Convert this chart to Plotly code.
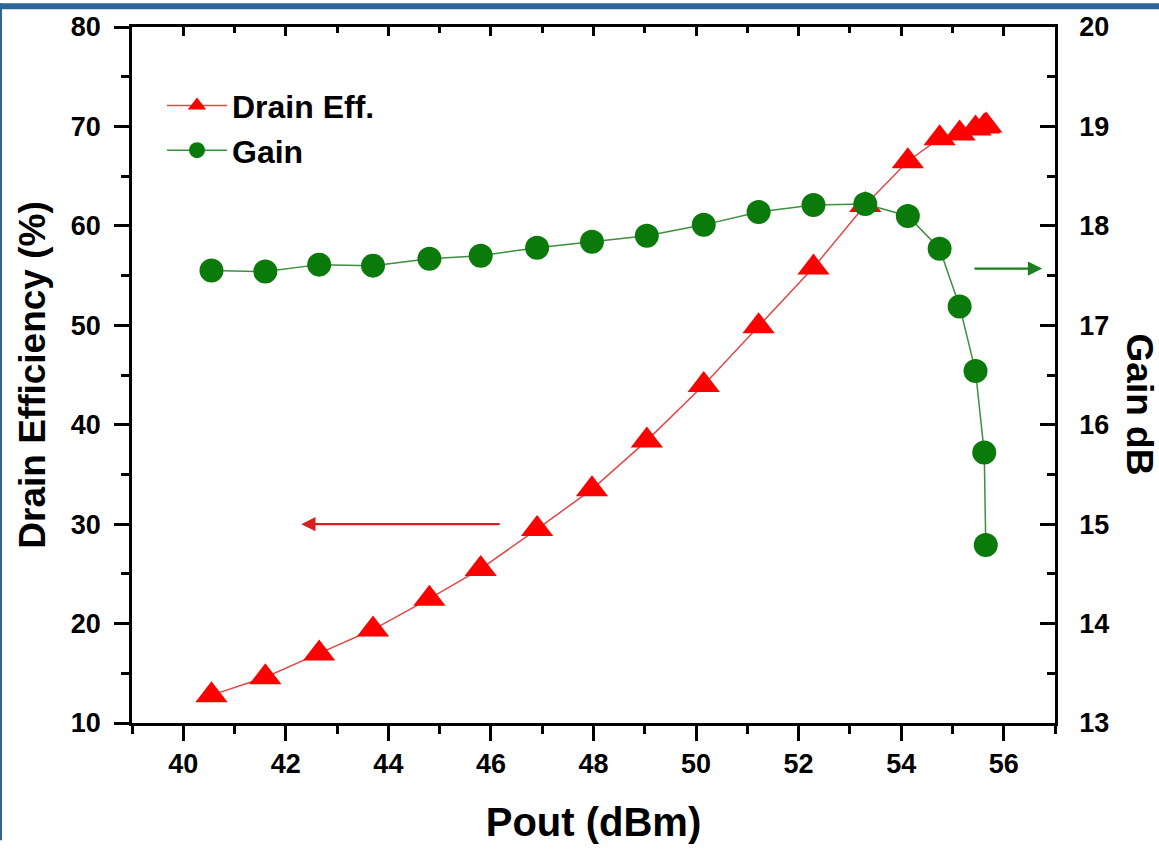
import plotly.graph_objects as go

# Data
pout_eff = [40.55, 41.6, 42.65, 43.7, 44.8, 45.8, 46.9, 47.97, 49.04, 50.15,
            51.22, 52.29, 53.3, 54.13, 54.75, 55.14, 55.45, 55.62, 55.66]
drain_eff = [12.8, 14.6, 17.0, 19.4, 22.5, 25.5, 29.5, 33.5, 38.4, 44.0,
             49.9, 55.8, 62.1, 66.5, 68.8, 69.3, 69.8, 70.0, 70.1]

pout_gain = [40.55, 41.6, 42.65, 43.7, 44.8, 45.8, 46.9, 47.97, 49.04, 50.15,
             51.22, 52.29, 53.3, 54.13, 54.75, 55.14, 55.45, 55.62, 55.65]
gain_db = [17.55, 17.54, 17.61, 17.60, 17.67, 17.70, 17.78, 17.84, 17.90, 18.01,
           18.14, 18.21, 18.22, 18.10, 17.77, 17.19, 16.54, 15.72, 14.79]

x_range = [39, 57]
eff_range = [10, 80]
gain_range = [13, 20]

W, H = 1159, 849
L, R, T, B = 132, 104, 24, 119
pw, ph = W - L - R, H - T - B

FONT = "Arial, Liberation Sans, sans-serif"

def px_x(p):
    return (p - L) / pw

def px_y(p):
    return (H - B - p) / ph

fig = go.Figure()
fig.add_trace(go.Scatter(
    x=pout_eff, y=drain_eff, name="Drain Eff.", mode="lines+markers",
    line=dict(color="#E04848", width=1.5),
    marker=dict(symbol="triangle-up", size=28, color="#FF0000",
                line=dict(width=0)),
    xaxis="x", yaxis="y"))
fig.add_trace(go.Scatter(
    x=pout_gain, y=gain_db, name="Gain", mode="lines+markers",
    line=dict(color="#3E8E3E", width=1.5),
    marker=dict(symbol="circle", size=24, color="#0A7A0A",
                line=dict(width=0)),
    xaxis="x2", yaxis="y2"))

tickfont = dict(family=FONT, size=27, color="black", weight="bold")

fig.update_layout(
    width=W, height=H,
    margin=dict(l=L, r=R, t=T, b=B),
    paper_bgcolor="white", plot_bgcolor="white",
    showlegend=True,
    legend=dict(x=px_x(162), y=px_y(76), xanchor="left", yanchor="top",
                bgcolor="rgba(0,0,0,0)",
                font=dict(family=FONT, size=32, color="black", weight="bold"),
                tracegroupgap=4, itemwidth=60),
    xaxis=dict(range=x_range, dtick=2, tick0=40, ticks="outside", ticklen=15,
               tickwidth=2.5, tickcolor="black", showline=True, linewidth=2.5,
               linecolor="black", showgrid=False, zeroline=False,
               minor=dict(dtick=1, ticks="outside", ticklen=8, tickwidth=2.5,
                          tickcolor="black", showgrid=False),
               tickfont=tickfont,
               title=dict(text="Pout (dBm)", standoff=30,
                          font=dict(family=FONT, size=40, color="black", weight="bold"))),
    xaxis2=dict(range=x_range, overlaying="x", side="top", anchor="y2",
                dtick=2, tick0=40, ticks="inside", ticklen=9, tickwidth=2.5,
                tickcolor="black", showline=True, linewidth=2.5, linecolor="black",
                showticklabels=False, showgrid=False, zeroline=False,
                minor=dict(dtick=1, ticks="inside", ticklen=6, tickwidth=2.5,
                           tickcolor="black", showgrid=False)),
    yaxis=dict(range=eff_range, dtick=10, tick0=10, ticks="outside", ticklen=15,
               tickwidth=2.5, tickcolor="black", showline=True, linewidth=2.5,
               linecolor="black", showgrid=False, zeroline=False,
               minor=dict(dtick=5, ticks="outside", ticklen=8, tickwidth=2.5,
                          tickcolor="black", showgrid=False),
               tickfont=tickfont, ticklabelstandoff=8,
               title=dict(text="Drain Efficiency (%)", standoff=14,
                          font=dict(family=FONT, size=37, color="black", weight="bold"))),
    yaxis2=dict(range=gain_range, overlaying="y", side="right", anchor="x2",
                dtick=1, tick0=13, ticks="inside", ticklen=15, tickwidth=2.5,
                tickcolor="black", showline=True, linewidth=2.5, linecolor="black",
                showgrid=False, zeroline=False,
                minor=dict(dtick=0.5, ticks="inside", ticklen=8, tickwidth=2.5,
                           tickcolor="black", showgrid=False),
                tickfont=tickfont, ticklabelstandoff=16),
)

# Gain axis title, reading top-to-bottom near the right edge
fig.add_annotation(text="Gain dB", textangle=90, xref="paper", yref="paper",
                   x=px_x(1139), y=px_y(407), xanchor="center", yanchor="middle",
                   showarrow=False,
                   font=dict(family=FONT, size=37, color="black", weight="bold"))

# Arrows indicating axes
fig.add_annotation(x=42.3, y=30, ax=46.2, ay=30, xref="x", yref="y",
                   axref="x", ayref="y", text="", showarrow=True,
                   arrowhead=2, arrowsize=1.3, arrowwidth=2.2, arrowcolor="#D42020")
fig.add_annotation(x=56.75, y=17.57, ax=55.4, ay=17.57, xref="x2", yref="y2",
                   axref="x2", ayref="y2", text="", showarrow=True,
                   arrowhead=2, arrowsize=1.3, arrowwidth=2.2, arrowcolor="#1E7E1E")

# Blue frame strips (top and left)
blue = "#2F6499"
fig.add_shape(type="rect", xref="paper", yref="paper",
              x0=px_x(0), x1=px_x(W), y0=px_y(6), y1=px_y(0),
              fillcolor=blue, line=dict(width=0), layer="above")
fig.add_shape(type="rect", xref="paper", yref="paper",
              x0=px_x(0), x1=px_x(2), y0=px_y(H), y1=px_y(0),
              fillcolor=blue, line=dict(width=0), layer="above")

fig.write_html("out.html", config={"displayModeBar": False},
               post_script="document.body.style.margin='0px';"
                           "document.body.style.overflow='hidden';")
